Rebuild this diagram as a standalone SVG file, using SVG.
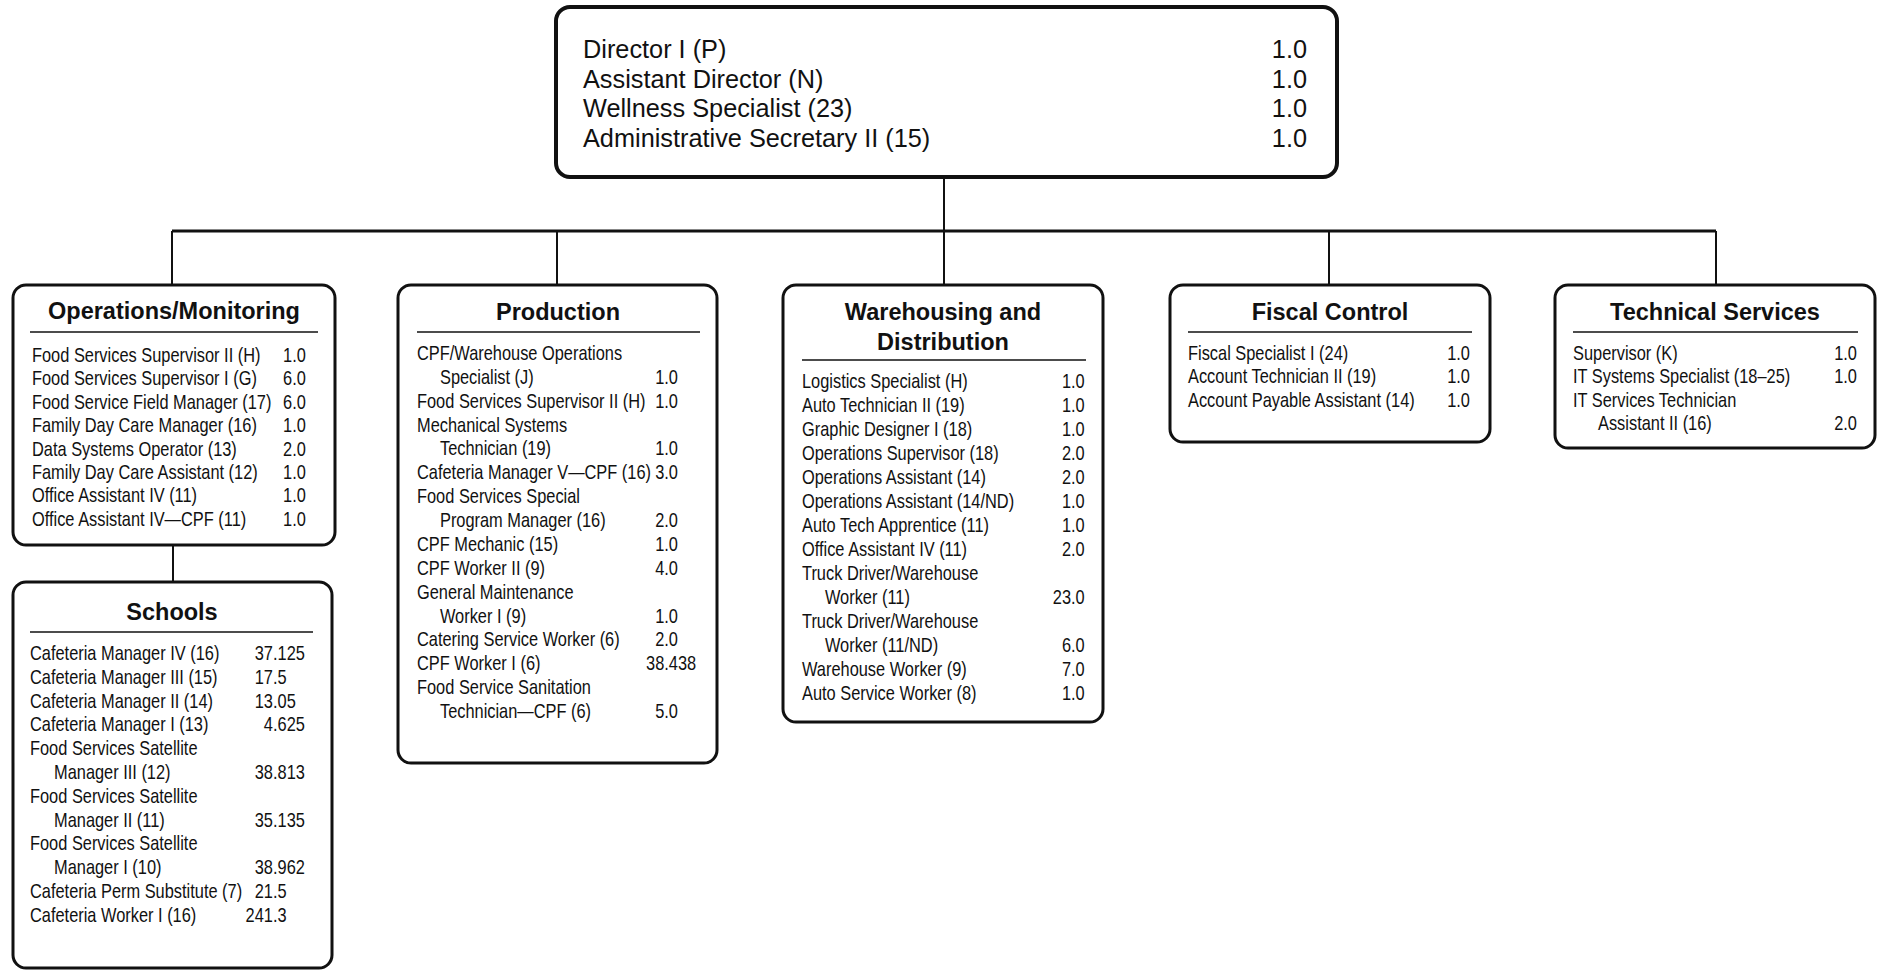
<svg xmlns="http://www.w3.org/2000/svg" width="1881" height="970" viewBox="0 0 1881 970">
<style>
.box{fill:#fff;stroke:#111;stroke-width:3}
.top{fill:#fff;stroke:#111;stroke-width:4}
.ln{stroke:#111;stroke-width:2;fill:none}
.bar{stroke:#111;stroke-width:3;fill:none}
.ul{stroke:#111;stroke-width:1.5}
.t{font-family:"Liberation Sans",Arial,sans-serif;font-size:20px;fill:#111}
.tt{font-family:"Liberation Sans",Arial,sans-serif;font-size:25.3px;fill:#111}
.h{font-family:"Liberation Sans",Arial,sans-serif;font-weight:bold;font-size:23.5px;fill:#111;text-anchor:middle}
.r{text-anchor:end}
</style>
<g id="connectors">
<line class="ln" x1="944" y1="177" x2="944" y2="231"/>
<line class="bar" x1="172" y1="231" x2="1716" y2="231"/>
<line class="ln" x1="172" y1="231" x2="172" y2="285"/>
<line class="ln" x1="557" y1="231" x2="557" y2="285"/>
<line class="ln" x1="944" y1="231" x2="944" y2="285"/>
<line class="ln" x1="1329" y1="231" x2="1329" y2="285"/>
<line class="ln" x1="1716" y1="231" x2="1716" y2="285"/>
<line class="ln" x1="173" y1="545" x2="173" y2="582"/>
</g>
<g id="director">
<rect class="top" x="556" y="7" width="781" height="170" rx="14"/>
<text class="tt" x="583" y="58.3">Director I (P)</text>
<text class="tt" x="583" y="87.7">Assistant Director (N)</text>
<text class="tt" x="583" y="117">Wellness Specialist (23)</text>
<text class="tt" x="583" y="146.5">Administrative Secretary II (15)</text>
<text class="tt r" x="1307" y="58.3">1.0</text>
<text class="tt r" x="1307" y="87.7">1.0</text>
<text class="tt r" x="1307" y="117">1.0</text>
<text class="tt r" x="1307" y="146.5">1.0</text>
</g>
<g id="operations">
<rect class="box" x="13" y="285" width="322" height="260" rx="13"/>
<text class="h" x="174" y="319">Operations/Monitoring</text>
<line class="ul" x1="30" y1="332" x2="318" y2="332"/>
<g transform="translate(32,0) scale(0.82,1)">
<text class="t" x="0" y="362">Food Services Supervisor II (H)</text>
<text class="t" x="0" y="385.4">Food Services Supervisor I (G)</text>
<text class="t" x="0" y="408.8">Food Service Field Manager (17)</text>
<text class="t" x="0" y="432.2">Family Day Care Manager (16)</text>
<text class="t" x="0" y="455.6">Data Systems Operator (13)</text>
<text class="t" x="0" y="479">Family Day Care Assistant (12)</text>
<text class="t" x="0" y="502.4">Office Assistant IV (11)</text>
<text class="t" x="0" y="525.8">Office Assistant IV—CPF (11)</text>
<text class="t r" x="334" y="362">1.0</text>
<text class="t r" x="334" y="385.4">6.0</text>
<text class="t r" x="334" y="408.8">6.0</text>
<text class="t r" x="334" y="432.2">1.0</text>
<text class="t r" x="334" y="455.6">2.0</text>
<text class="t r" x="334" y="479">1.0</text>
<text class="t r" x="334" y="502.4">1.0</text>
<text class="t r" x="334" y="525.8">1.0</text>
</g>
</g>
<g id="schools">
<rect class="box" x="13" y="582" width="319" height="386" rx="13"/>
<text class="h" x="172" y="620">Schools</text>
<line class="ul" x1="30" y1="632" x2="313" y2="632"/>
<g transform="translate(30,0) scale(0.82,1)">
<text class="t" x="0" y="660">Cafeteria Manager IV (16)</text>
<text class="t" x="0" y="683.8">Cafeteria Manager III (15)</text>
<text class="t" x="0" y="707.6">Cafeteria Manager II (14)</text>
<text class="t" x="0" y="731.4">Cafeteria Manager I (13)</text>
<text class="t" x="0" y="755.2">Food Services Satellite</text>
<text class="t" x="29.3" y="779">Manager III (12)</text>
<text class="t" x="0" y="802.8">Food Services Satellite</text>
<text class="t" x="29.3" y="826.6">Manager II (11)</text>
<text class="t" x="0" y="850.4">Food Services Satellite</text>
<text class="t" x="29.3" y="874.2">Manager I (10)</text>
<text class="t" x="0" y="898">Cafeteria Perm Substitute (7)</text>
<text class="t" x="0" y="921.8">Cafeteria Worker I (16)</text>
<text class="t" x="274.1" y="660">37.125</text>
<text class="t" x="274.1" y="683.8">17.5</text>
<text class="t" x="274.1" y="707.6">13.05</text>
<text class="t" x="285.2" y="731.4">4.625</text>
<text class="t" x="274.1" y="779">38.813</text>
<text class="t" x="274.1" y="826.6">35.135</text>
<text class="t" x="274.1" y="874.2">38.962</text>
<text class="t" x="274.1" y="898">21.5</text>
<text class="t" x="262.9" y="921.8">241.3</text>
</g>
</g>
<g id="production">
<rect class="box" x="398" y="285" width="319" height="478" rx="13"/>
<text class="h" x="558" y="320">Production</text>
<line class="ul" x1="417" y1="332" x2="700" y2="332"/>
<g transform="translate(417,0) scale(0.82,1)">
<text class="t" x="0" y="360">CPF/Warehouse Operations</text>
<text class="t" x="28" y="383.9">Specialist (J)</text>
<text class="t" x="0" y="407.7">Food Services Supervisor II (H)</text>
<text class="t" x="0" y="431.6">Mechanical Systems</text>
<text class="t" x="28" y="455.5">Technician (19)</text>
<text class="t" x="0" y="479.4">Cafeteria Manager V—CPF (16)</text>
<text class="t" x="0" y="503.2">Food Services Special</text>
<text class="t" x="28" y="527.1">Program Manager (16)</text>
<text class="t" x="0" y="551">CPF Mechanic (15)</text>
<text class="t" x="0" y="574.8">CPF Worker II (9)</text>
<text class="t" x="0" y="598.7">General Maintenance</text>
<text class="t" x="28" y="622.6">Worker I (9)</text>
<text class="t" x="0" y="646.4">Catering Service Worker (6)</text>
<text class="t" x="0" y="670.3">CPF Worker I (6)</text>
<text class="t" x="0" y="694.2">Food Service Sanitation</text>
<text class="t" x="28" y="718">Technician—CPF (6)</text>
<text class="t" x="290.5" y="383.9">1.0</text>
<text class="t" x="290.5" y="407.7">1.0</text>
<text class="t" x="290.5" y="455.5">1.0</text>
<text class="t" x="290.5" y="479.4">3.0</text>
<text class="t" x="290.5" y="527.1">2.0</text>
<text class="t" x="290.5" y="551">1.0</text>
<text class="t" x="290.5" y="574.8">4.0</text>
<text class="t" x="290.5" y="622.6">1.0</text>
<text class="t" x="290.5" y="646.4">2.0</text>
<text class="t" x="279.4" y="670.3">38.438</text>
<text class="t" x="290.5" y="718">5.0</text>
</g>
</g>
<g id="warehousing">
<rect class="box" x="783" y="285" width="320" height="437" rx="13"/>
<text class="h" x="943" y="320">Warehousing and</text>
<text class="h" x="943" y="350">Distribution</text>
<line class="ul" x1="802" y1="360" x2="1086" y2="360"/>
<g transform="translate(802,0) scale(0.82,1)">
<text class="t" x="0" y="388">Logistics Specialist (H)</text>
<text class="t" x="0" y="412">Auto Technician II (19)</text>
<text class="t" x="0" y="436">Graphic Designer I (18)</text>
<text class="t" x="0" y="460">Operations Supervisor (18)</text>
<text class="t" x="0" y="484">Operations Assistant (14)</text>
<text class="t" x="0" y="508">Operations Assistant (14/ND)</text>
<text class="t" x="0" y="532">Auto Tech Apprentice (11)</text>
<text class="t" x="0" y="556">Office Assistant IV (11)</text>
<text class="t" x="0" y="580">Truck Driver/Warehouse</text>
<text class="t" x="28" y="604">Worker (11)</text>
<text class="t" x="0" y="628">Truck Driver/Warehouse</text>
<text class="t" x="28" y="652">Worker (11/ND)</text>
<text class="t" x="0" y="676">Warehouse Worker (9)</text>
<text class="t" x="0" y="700">Auto Service Worker (8)</text>
<text class="t" x="317" y="388">1.0</text>
<text class="t" x="317" y="412">1.0</text>
<text class="t" x="317" y="436">1.0</text>
<text class="t" x="317" y="460">2.0</text>
<text class="t" x="317" y="484">2.0</text>
<text class="t" x="317" y="508">1.0</text>
<text class="t" x="317" y="532">1.0</text>
<text class="t" x="317" y="556">2.0</text>
<text class="t" x="305.9" y="604">23.0</text>
<text class="t" x="317" y="652">6.0</text>
<text class="t" x="317" y="676">7.0</text>
<text class="t" x="317" y="700">1.0</text>
</g>
</g>
<g id="fiscal">
<rect class="box" x="1170" y="285" width="320" height="157" rx="13"/>
<text class="h" x="1330" y="320">Fiscal Control</text>
<line class="ul" x1="1188" y1="332" x2="1472" y2="332"/>
<g transform="translate(1188,0) scale(0.82,1)">
<text class="t" x="0" y="360">Fiscal Specialist I (24)</text>
<text class="t" x="0" y="383.5">Account Technician II (19)</text>
<text class="t" x="0" y="407">Account Payable Assistant (14)</text>
<text class="t r" x="343.9" y="360">1.0</text>
<text class="t r" x="343.9" y="383.5">1.0</text>
<text class="t r" x="343.9" y="407">1.0</text>
</g>
</g>
<g id="technical">
<rect class="box" x="1555" y="285" width="320" height="163" rx="13"/>
<text class="h" x="1715" y="320">Technical Services</text>
<line class="ul" x1="1573" y1="332" x2="1858" y2="332"/>
<g transform="translate(1573,0) scale(0.82,1)">
<text class="t" x="0" y="360">Supervisor (K)</text>
<text class="t" x="0" y="383.5">IT Systems Specialist (18–25)</text>
<text class="t" x="0" y="407">IT Services Technician</text>
<text class="t" x="30.5" y="430.5">Assistant II (16)</text>
<text class="t r" x="346.3" y="360">1.0</text>
<text class="t r" x="346.3" y="383.5">1.0</text>
<text class="t r" x="346.3" y="430.5">2.0</text>
</g>
</g>
</svg>
